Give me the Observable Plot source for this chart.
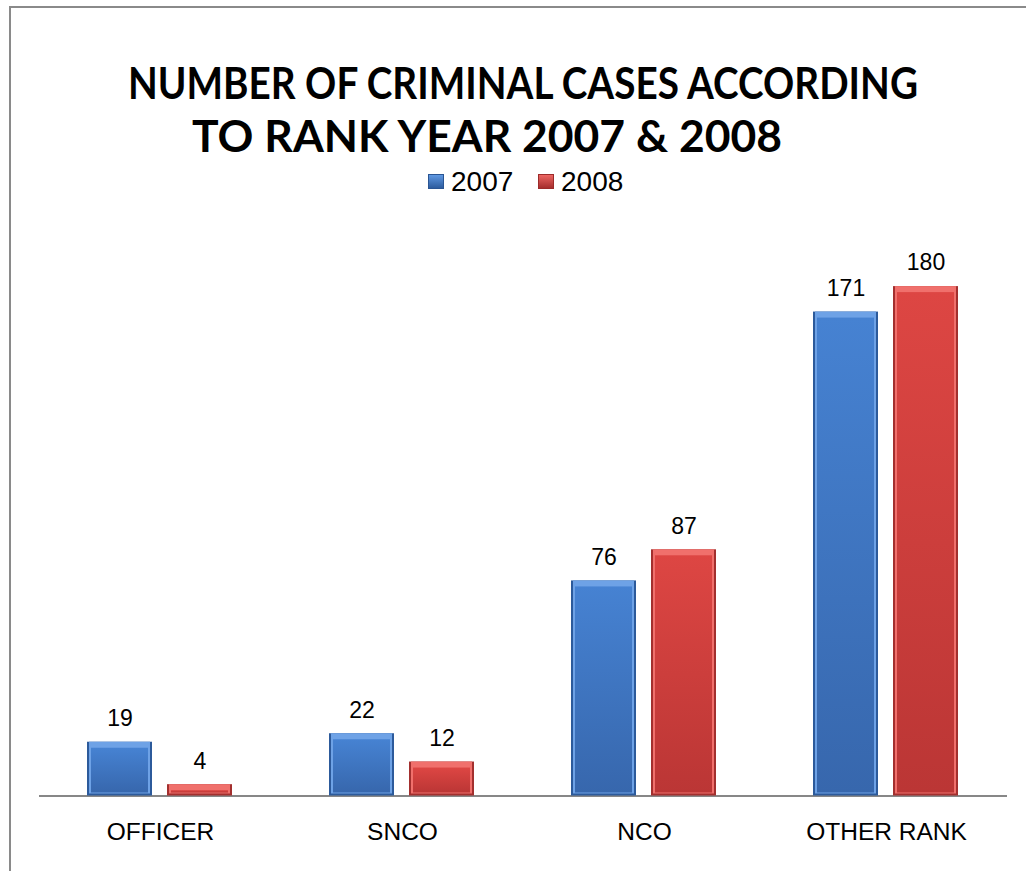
<!DOCTYPE html>
<html>
<head>
<meta charset="utf-8">
<script src="https://cdn.jsdelivr.net/npm/d3@7"></script>
<script src="https://cdn.jsdelivr.net/npm/@observablehq/plot@0.6"></script>
<style>
html, body { margin: 0; padding: 0; background: #fff; width: 1026px; height: 871px; overflow: hidden; }
#frame { position: absolute; left: 9px; top: 6px; width: 1100px; height: 1000px;
  border-left: 2px solid #8a8a8a; border-top: 2px solid #8a8a8a; }
.tline { position: absolute; font-family: Lato, "Open Sans", sans-serif; font-weight: 700; font-size: 44px;
  line-height: 53px; color: #000; white-space: nowrap; transform-origin: 0 0; }
.leg { position: absolute; font-family: "Liberation Sans", Arial, sans-serif; font-size: 28px; line-height: 32px; color: #000; }
.sw { position: absolute; width: 16px; height: 15px; box-sizing: border-box; }
#chart { position: absolute; left: 0; top: 210px; }
</style>
</head>
<body>
<div id="frame"></div>
<div class="tline" id="t1" style="top:56px;left:128px">NUMBER OF CRIMINAL CASES ACCORDING</div>
<div class="tline" id="t2" style="top:109px;left:192px">TO RANK YEAR 2007 &amp; 2008</div>
<div class="sw" style="left:428px;top:174px;background:linear-gradient(#5f98e2,#2d5c9e);border:1px solid #2a5593;"></div>
<div class="leg" style="left:451px;top:166px">2007</div>
<div class="sw" style="left:538px;top:174px;background:linear-gradient(#ec6562,#a52e2d);border:1px solid #9c2b2a;"></div>
<div class="leg" style="left:561px;top:166px">2008</div>
<div id="chart"></div>
<script>
const categories = ["OFFICER", "SNCO", "NCO", "OTHER RANK"];
const years = ["2007", "2008"];
const values2007 = [19, 22, 76, 171];
const values2008 = [4, 12, 87, 180];

const data = categories.flatMap((c, i) => [
  {rank: c, year: years[0], value: values2007[i]},
  {rank: c, year: years[1], value: values2008[i]}
]);
const d07 = data.filter(d => d.year === years[0]);
const d08 = data.filter(d => d.year === years[1]);

function bars(rows, edge, light, face) {
  const base = {fx: "rank", x: "year", y: "value"};
  return [
    Plot.barY(rows, {...base, fill: edge}),
    Plot.barY(rows, {...base, fill: light, insetLeft: 2, insetRight: 2, insetBottom: 2}),
    Plot.barY(rows, {...base, fill: face, insetLeft: 4, insetRight: 4, insetTop: 6, insetBottom: 3})
  ];
}

const chart = Plot.plot({
  width: 1026,
  height: 661,
  marginLeft: 37,
  marginRight: 17.7,
  marginTop: 19.5,
  marginBottom: 75.5,
  style: {fontFamily: "'Liberation Sans', Arial, sans-serif", color: "#000", background: "transparent"},
  fx: {domain: categories, padding: 0, label: null},
  x: {domain: years, paddingInner: 0.185, paddingOuter: 0.59, axis: null},
  y: {domain: [0, 200], axis: null},
  marks: [
    Plot.ruleY([0], {stroke: "#878787", strokeWidth: 2}),
    ...bars(d07, "#2c5a9b", "#6ea2e6", "url(#faceBlue)"),
    ...bars(d08, "#a32f2e", "#f0706c", "url(#faceRed)"),
    Plot.text(data, {fx: "rank", x: "year", y: "value", text: d => String(d.value), dy: -23.5, fontSize: 23, lineAnchor: "middle", fill: "#000"}),
    Plot.axisFx({anchor: "bottom", tickSize: 0, tickPadding: 27, fontSize: 24.5, label: null, fill: "#000"})
  ]
});

const ns = "http://www.w3.org/2000/svg";
const defs = document.createElementNS(ns, "defs");
defs.innerHTML = `
<linearGradient id="faceBlue" x1="0" y1="0" x2="0" y2="1">
  <stop offset="0" stop-color="#4682d2"/><stop offset="1" stop-color="#3767ad"/>
</linearGradient>
<linearGradient id="faceRed" x1="0" y1="0" x2="0" y2="1">
  <stop offset="0" stop-color="#dd4643"/><stop offset="1" stop-color="#bb3635"/>
</linearGradient>`;
const svgEl = chart.tagName.toLowerCase() === "svg" ? chart : chart.querySelector("svg");
svgEl.insertBefore(defs, svgEl.firstChild);
document.getElementById("chart").appendChild(chart);

// fit each title line to the reference's width
function fit(id, target) {
  const el = document.getElementById(id);
  const w = el.getBoundingClientRect().width;
  el.style.transform = `scaleX(${target / w})`;
}
fit("t1", 790);
fit("t2", 590);
</script>
</body>
</html>
